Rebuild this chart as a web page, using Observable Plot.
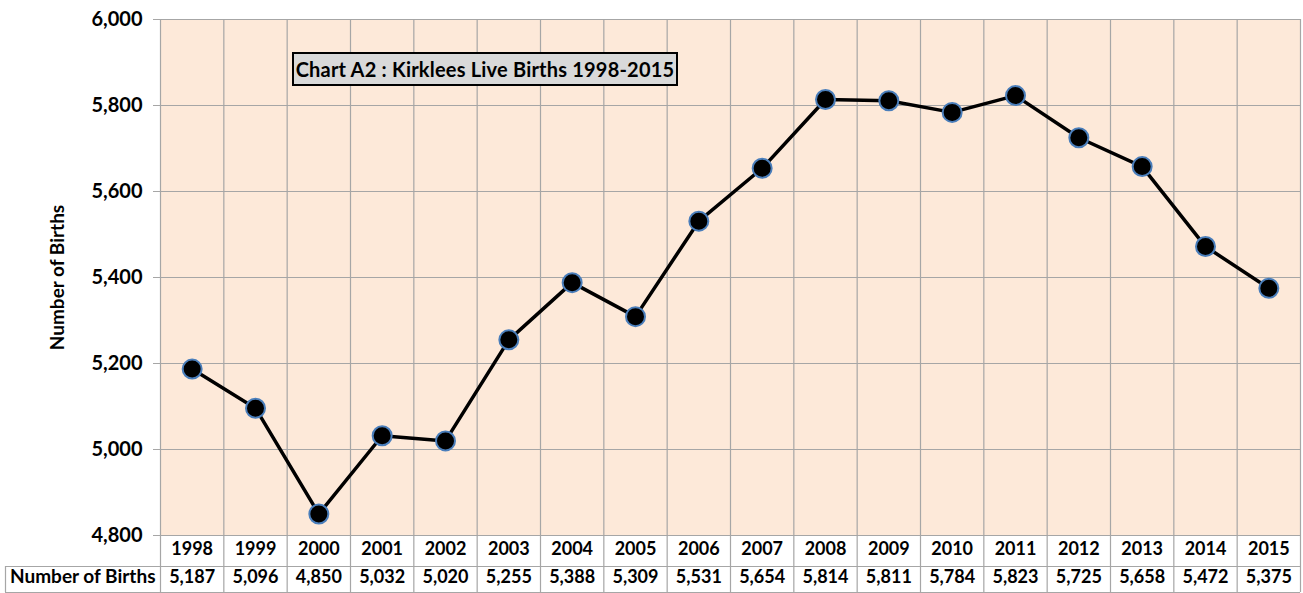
<!DOCTYPE html>
<html><head><meta charset="utf-8">
<script src="https://cdn.jsdelivr.net/npm/d3@7"></script>
<script src="https://cdn.jsdelivr.net/npm/@observablehq/plot@0.6"></script>
<style>
html,body{margin:0;padding:0;background:#fff;}
#wrap{position:relative;width:1303px;height:593px;font-family:Lato,"Open Sans",sans-serif;}
#title{position:absolute;left:292px;top:52px;width:382px;height:30px;background:#d9d9d9;border:2px solid #000;
font-weight:bold;font-size:20px;line-height:31px;text-align:center;color:#000;white-space:nowrap;letter-spacing:0.2px;}
</style></head>
<body><div id="wrap"><div id="title">Chart A2 : Kirklees Live Births 1998-2015</div></div>
<script>
const years = [1998,1999,2000,2001,2002,2003,2004,2005,2006,2007,2008,2009,2010,2011,2012,2013,2014,2015];
const births = [5187,5096,4850,5032,5020,5255,5388,5309,5531,5654,5814,5811,5784,5823,5725,5658,5472,5375];
const yTicks = [4800,5000,5200,5400,5600,5800,6000];
const rowLabel = "Number of Births";

const data = years.map((y,i)=>({year:y, births:births[i]}));
const fmt = d3.format(",");
const bounds = [years[0]-0.5, ...years.map(y=>y+0.5)];
const grid = "#a6a6a6";

const chart = Plot.plot({
  width:1303, height:593,
  marginLeft:160, marginRight:3, marginTop:19, marginBottom:58,
  style:{fontFamily:"Lato, 'Open Sans', sans-serif", fontSize:"18px", fontWeight:"bold", color:"#000", background:"transparent"},
  x:{type:"linear", domain:[years[0]-0.5, years[years.length-1]+0.5], axis:null},
  y:{domain:[4800,6000]},
  marks:[
    Plot.frame({fill:"#fde9d9", stroke:null}),
    Plot.ruleY(yTicks, {stroke:grid, strokeWidth:1.2}),
    Plot.ruleX(bounds, {stroke:grid, strokeWidth:1.2, insetBottom:-57}),
    Plot.ruleY([4800], {stroke:grid, strokeWidth:1.2, dy:31, insetLeft:-155}),
    Plot.ruleY([4800], {stroke:grid, strokeWidth:1.2, dy:57, insetLeft:-155}),
    Plot.ruleX([years[0]-0.5], {stroke:grid, strokeWidth:1.2, dx:-155, insetTop:547, insetBottom:-57}),
    Plot.axisY({ticks:yTicks, tickFormat:fmt, tickSize:7, tickPadding:11, stroke:grid, label:null, fontSize:20}),
    Plot.axisY({ticks:[], tickSize:0, label:rowLabel, labelAnchor:"center", labelArrow:"none", labelOffset:110, fontSize:19}),
    Plot.line(data, {x:"year", y:"births", stroke:"#000", strokeWidth:3.5}),
    Plot.dot(data, {x:"year", y:"births", r:9.5, fill:"#000", stroke:"#4a7ebb", strokeWidth:2}),
    Plot.text(years, {x:d=>d, text:d=>String(d), frameAnchor:"bottom", dy:19, fontSize:18}),
    Plot.text(data, {x:"year", text:d=>fmt(d.births), frameAnchor:"bottom", dy:47, fontSize:18}),
    Plot.text([rowLabel], {frameAnchor:"bottom-left", text:d=>d, textAnchor:"end", dx:-5, dy:47, fontSize:19})
  ]
});
document.getElementById("wrap").prepend(chart);
chart.style.position="absolute"; chart.style.left="0"; chart.style.top="0";
</script></body></html>
